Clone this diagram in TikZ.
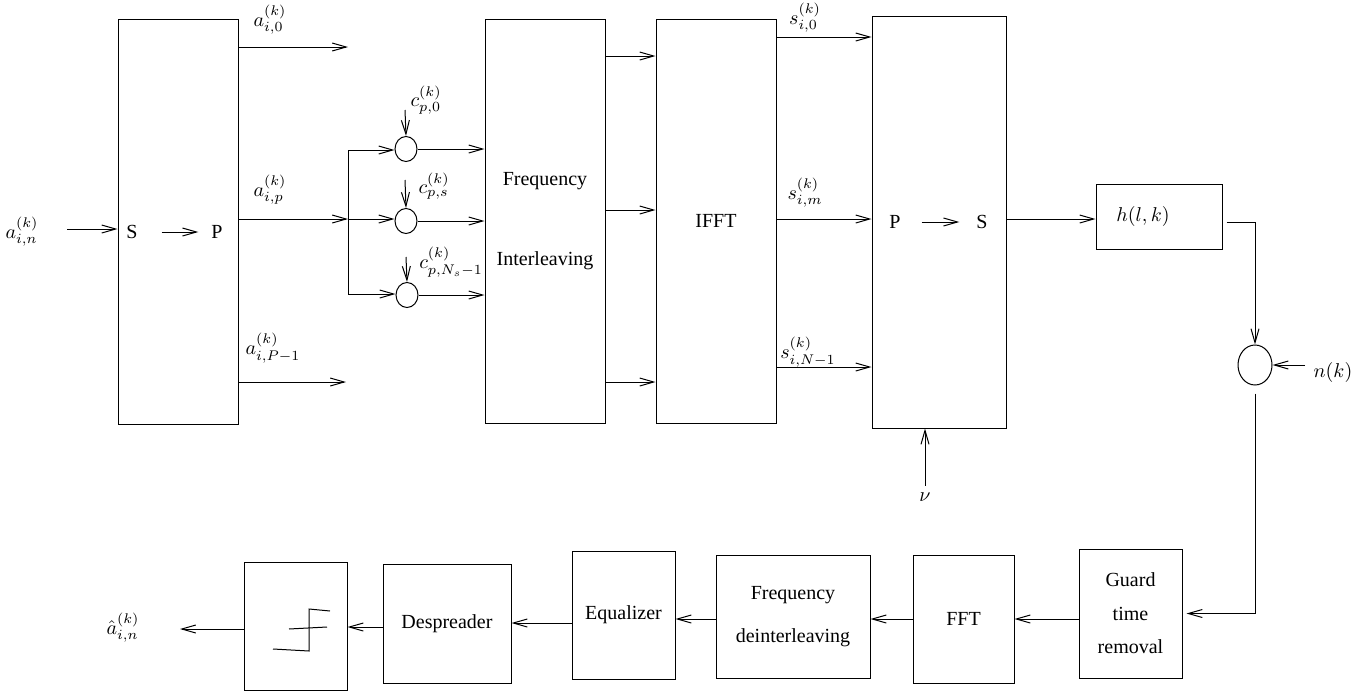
\documentclass[tikz,border=0pt]{standalone}
\usepackage[no-math]{fontspec}
\setmainfont{Liberation Serif}
\usepackage{tikz}
\usetikzlibrary{shapes.geometric,arrows.meta,positioning}

\begin{document}
\begin{tikzpicture}[x=0.5pt,y=-0.5pt,line width=0.5pt,
  blk/.style={rectangle,draw,inner sep=0pt,align=center},
  mult/.style={ellipse,draw,inner sep=0pt,minimum width=11pt,minimum height=12.5pt},
  sum/.style={ellipse,draw,inner sep=0pt,minimum width=17pt,minimum height=20pt},
  sig/.style={-{Straight Barb[length=7pt,width=4pt]}}]
  \useasboundingbox (0,0) rectangle (1371,691);
  % transmitter
  \node[blk,minimum width=60pt,minimum height=202.5pt] (sp) at (178,221.5) {};
  \node (spS) at (132,232) {S};
  \node (spP) at (217,232) {P};
  \node[blk,minimum width=60pt,minimum height=202pt] (fi) at (545,221) {Frequency\\[28pt]Interleaving};
  \node[blk,minimum width=60pt,minimum height=202pt] (ifft) at (716,221) {IFFT};
  \node[blk,minimum width=67pt,minimum height=206pt] (ps) at (939,222) {};
  \node (psP) at (895,222) {P};
  \node (psS) at (982,222) {S};
  \node[blk,minimum width=63pt,minimum height=32.5pt] (chan) at (1159,216.5) {$h(l,k)$\hspace*{16pt}};
  \node[sum] (add) at (1255,365) {};
  \node (noise) at (1333,372) {$n(k)$};
  \node (nu) at (925,497) {$\nu$};
  \node[mult] (m0) at (406,149) {};
  \node[mult] (ms) at (406,221) {};
  \node[mult] (mN) at (407,295) {};
  % receiver
  \node[blk,minimum width=51.5pt,minimum height=64.5pt] (guard) at (1130.5,613.5) {Guard\\[4.75pt]time\\[4.75pt]removal};
  \node[blk,minimum width=50.5pt,minimum height=64pt] (fft) at (963.5,619) {FFT};
  \node[blk,minimum width=77pt,minimum height=61.5pt] (fdi) at (793,616.5) {Frequency\\[9.5pt]deinterleaving};
  \node[blk,minimum width=51.5pt,minimum height=64pt] (eq) at (623.5,615) {Equalizer};
  \node[blk,minimum width=64pt,minimum height=59.5pt] (desp) at (447,623.5) {Despreader};
  \node[blk,minimum width=51.5pt,minimum height=64pt] (dec) at (295.5,626) {};
  % labels
  \node (ain) at (22,232) {$a^{(k)}_{i,n}$};
  \node (la0) at (270,20) {$a^{(k)}_{i,0}$};
  \node (lap) at (270,190) {$a^{(k)}_{i,p}$};
  \node (laP) at (273,348) {$a^{(k)}_{i,P-1}$};
  \node (lc0) at (426,100) {$c^{(k)}_{p,0}$};
  \node (lcs) at (434,186) {$c^{(k)}_{p,s}$};
  \node (lcN) at (451,262) {$c^{(k)}_{p,N_s-1}$};
  \node (ls0) at (805,18) {$s^{(k)}_{i,0}$};
  \node (lsm) at (805,193) {$s^{(k)}_{i,m}$};
  \node (lsN) at (808,352) {$s^{(k)}_{i,N-1}$};
  \node (aout) at (123,628) {$\hat{a}^{(k)}_{i,n}$};
  \coordinate (in) at (67,229);
  \coordinate (o0) at (348,47);
  \coordinate (jn) at (348,219);
  \coordinate (oP) at (346,382);
  \coordinate (jt) at (348,150);
  \coordinate (jb) at (348,294);
  \coordinate (c0) at (405,110);
  \coordinate (cs) at (405,180);
  \coordinate (cN) at (406,257);
  \coordinate (nz) at (1305,365);
  \coordinate (out) at (180,629);
  % connections
  \draw[sig] (in) -- (in -| sp.west);
  \draw[sig,shorten <=8.5pt,shorten >=3pt] (spS) -- (spP);
  \draw[sig] (sp.east |- o0) -- (o0);
  \draw[sig] (sp.east |- jn) -- (jn);
  \draw[sig] (sp.east |- oP) -- (oP);
  \draw (jt) -- (jb);
  \draw[sig] (jt) -- (jt -| m0.west);
  \draw[sig] (jn) -- (jn -| ms.west);
  \draw[sig] (jb) -- (jb -| mN.west);
  \draw[sig] (c0) -- (m0.north);
  \draw[sig] (cs) -- (ms.north);
  \draw[sig] (cN) -- (mN.north);
  \draw[sig] (m0.east) -- (m0.east -| fi.west);
  \draw[sig] (ms.east) -- (ms.east -| fi.west);
  \draw[sig] (mN.east) -- (mN.east -| fi.west);
  \foreach \y in {56,210,382}
    \draw[sig] (fi.east |- 0,\y) -- (ifft.west |- 0,\y);
  \foreach \y in {37,219,367}
    \draw[sig] (ifft.east |- 0,\y) -- (ps.west |- 0,\y);
  \draw[sig,shorten <=7pt,shorten >=5pt] (psP) -- (psS);
  \draw[sig] (ps.east |- 0,219) -- (chan.west |- 0,219);
  \draw[sig] (nu.north) -- (nu.north |- ps.south);
  \draw[sig] ([shift={(2pt,-3pt)}]chan.east) -| (add.north);
  \draw[sig] (nz) -- (add.east);
  \draw[sig,shorten >=2pt] ([yshift=-4pt]add.south) |- (guard.east);
  \draw[sig] (guard.west |- 0,619) -- (fft.east |- 0,619);
  \draw[sig] (fft.west |- 0,619) -- (fdi.east |- 0,619);
  \draw[sig] (fdi.west |- 0,619) -- (eq.east |- 0,619);
  \draw[sig] (eq.west |- 0,623) -- (desp.east |- 0,623);
  \draw[sig] (desp.west |- 0,627) -- (dec.east |- 0,627);
  \draw[sig] (dec.west |- out) -- (out);
  \draw (273,649) -- (309,651) -- (309,609) -- (330,611);
  \draw (289,629) -- (327,627);
\end{tikzpicture}
\end{document}
